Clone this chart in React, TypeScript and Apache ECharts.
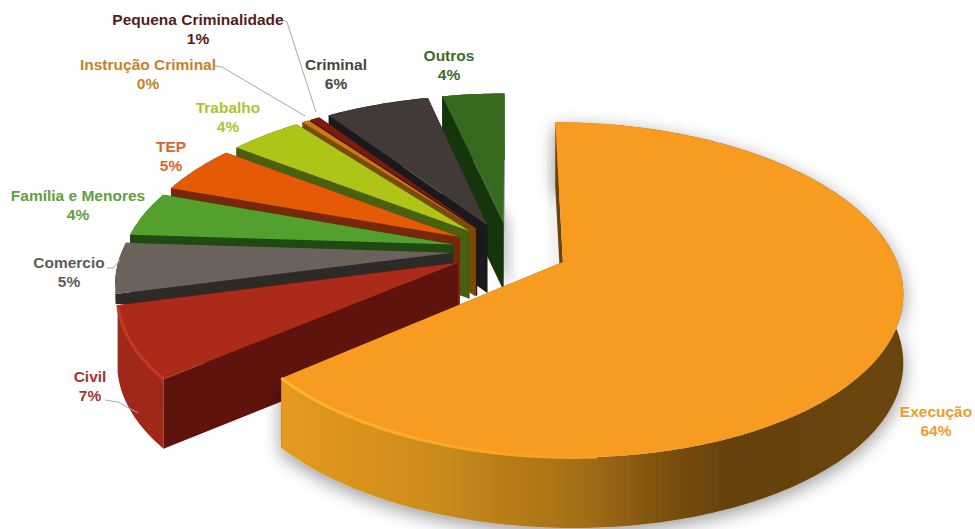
import React, { useEffect, useRef } from "react";
import * as echarts from "echarts";

// Share of cases per court type, clockwise from twelve o'clock
const categories = [
  "Execução", "Civil", "Comercio", "Família e Menores", "TEP",
  "Trabalho", "Instrução Criminal", "Pequena Criminalidade", "Criminal", "Outros",
];
const values = [64, 7, 5, 4.4, 4.8, 4.2, 0.4, 0.6, 6, 3.6];

const topColors = ["#F79C20", "#AB2A1A", "#6B635B", "#53A02E", "#E45A06", "#AEC416", "#C97A14", "#7C1A10", "#423A36", "#37691F"];
const cutColors = ["#6A430E", "#5E130C", "#2D2A28", "#1F4A12", "#76290A", "#4A6010", "#7A4A08", "#3A1008", "#1A191B", "#15340D"];
const wallColors = ["#A56E14", "#A0281A", "#2D2A28", "#1F4A12", "#76290A", "#4A6010", "#7A4A08", "#3A1008", "#1A191B", "#15340D"];
const labelColors = ["#F09A2E", "#A8322A", "#5F5A55", "#5FA03C", "#E0622A", "#AEC42E", "#C8802A", "#5A1A1A", "#4A423E", "#3F6A2A"];

// Centre of each two-line label
const labelAnchors = [
  [936, 421], [90, 386], [69, 272], [78, 205], [171, 156],
  [228, 117], [148, 74], [198, 29], [336, 74], [449, 65],
];

// Leader lines from labels to their slices
const leaders = [
  [[283, 20], [287, 22], [316, 112]],
  [[215, 66], [222, 67], [305, 116]],
  [[107, 268], [113, 268], [120, 260]],
  [[105, 400], [118, 402], [138, 413]],
];

const CX = 510, CY = 250, RX = 330, RY = 159, PERSPECTIVE = 0.164, EXPLODE = 0.175;

const total = values.reduce((a, b) => a + b, 0);

function percentText(v: number) {
  return Math.round((v / total) * 100) + "%";
}

function projectTop(px: number, pv: number) {
  const w = 1 / (1 - PERSPECTIVE * pv);
  return [CX + RX * px * w, CY + RY * pv * w, w];
}

function drop(p: number[]) {
  return [p[0], p[1] + 56 + 12 * p[2]];
}

function renderSlice(params: any, api: any) {
  const i = params.dataIndex;
  const value = api.value(0);
  let before = 0;
  for (let k = 0; k < i; k++) before += values[k];
  const a0 = (before / total) * Math.PI * 2;
  const a1 = ((before + value) / total) * Math.PI * 2;
  const mid = (a0 + a1) / 2;
  const ox = EXPLODE * Math.sin(mid);
  const oy = -EXPLODE * Math.cos(mid);

  const apex = projectTop(ox, oy);
  const arc: number[][] = [];
  const steps = Math.max(2, Math.ceil(((a1 - a0) * 180) / Math.PI));
  for (let s = 0; s <= steps; s++) {
    const a = a0 + ((a1 - a0) * s) / steps;
    arc.push(projectTop(ox + Math.sin(a), oy - Math.cos(a)));
  }
  const xy = (p: number[]) => [p[0], p[1]];
  const first = arc[0];
  const last = arc[arc.length - 1];
  const rank = i === 0 ? 10 : 10 - i;
  const z = rank * 10;

  // The grey slice's outer corner stays behind the red one
  const lowered = (p: number[]) => (i === 2 ? [p[0], p[1] + 10] : drop(p));

  const children: any[] = [];

  // Far cut face
  children.push({
    type: "polygon", z2: z,
    shape: { points: [xy(last), xy(apex), drop(apex), lowered(last)] },
    style: { fill: cutColors[i] },
  });

  // Outer rim
  const wallFill = i === 0
    ? new echarts.graphic.LinearGradient(283, 0, 900, 0, [
        { offset: 0, color: "#E59B20" },
        { offset: 0.25, color: "#CB8B1C" },
        { offset: 0.48, color: "#A66F15" },
        { offset: 0.62, color: "#7C5010" },
        { offset: 0.72, color: "#66420F" },
        { offset: 1, color: "#6B4510" },
      ], true)
    : wallColors[i];
  const wallShadow = i === 0
    ? { shadowColor: "rgba(0,0,0,0.4)", shadowBlur: 18, shadowOffsetY: 5 }
    : {};
  children.push({
    type: "polygon", z2: z + 1,
    shape: { points: [...arc.map(xy), ...arc.slice().reverse().map(lowered)] },
    style: { fill: wallFill, ...wallShadow },
  });

  // Near cut face
  const cutShadow = i === 0 || i === 9
    ? { shadowColor: "rgba(0,0,0,0.22)", shadowBlur: 12, shadowOffsetX: i === 0 ? -4 : 6 }
    : {};
  children.push({
    type: "polygon", z2: z + 2,
    shape: { points: [xy(first), xy(apex), drop(apex), lowered(first)] },
    style: { fill: cutColors[i], ...cutShadow },
  });

  // Top face
  children.push({
    type: "polygon", z2: z + 3,
    shape: { points: [xy(apex), ...arc.map(xy)] },
    style: { fill: topColors[i] },
  });

  // Bevel along the front edge of the two large slices
  if (i <= 1) {
    const bevel = i === 0
      ? new echarts.graphic.LinearGradient(283, 0, 600, 0, [
          { offset: 0, color: "#FFB733" },
          { offset: 1, color: "#F79C20" },
        ], true)
      : "#C23A24";
    children.push({
      type: "polyline", z2: z + 4,
      shape: { points: arc.slice(i === 0 ? arc.length - 55 : 0).map(xy) },
      style: { stroke: bevel, lineWidth: 3, fill: "none" },
    });
  }

  // Two-line label
  const [lx, ly] = labelAnchors[i];
  children.push({
    type: "text", z2: 1000, x: lx, y: ly,
    style: {
      text: categories[i] + "\n" + percentText(value),
      fill: labelColors[i],
      font: 'bold 15.5px "Liberation Sans"',
      align: "center",
      verticalAlign: "middle",
      lineHeight: 19,
    },
  });

  return { type: "group", children };
}

export default function App() {
  const ref = useRef<HTMLDivElement>(null);

  useEffect(() => {
    document.body.style.margin = "0";
    const chart = echarts.init(ref.current!, null, { renderer: "svg" });
    chart.setOption({
      animation: false,
      backgroundColor: "#ffffff",
      series: [
        {
          type: "custom",
          coordinateSystem: "none",
          renderItem: renderSlice,
          silent: true,
          data: values.map((v, i) => ({ name: categories[i], value: [v] })),
        },
      ],
      graphic: leaders.map((points) => ({
        type: "polyline",
        z: 5,
        shape: { points },
        style: { stroke: "#A8A8A8", lineWidth: 1, fill: "none" },
      })),
    });
    return () => chart.dispose();
  }, []);

  return <div ref={ref} style={{ width: 975, height: 529 }} />;
}
